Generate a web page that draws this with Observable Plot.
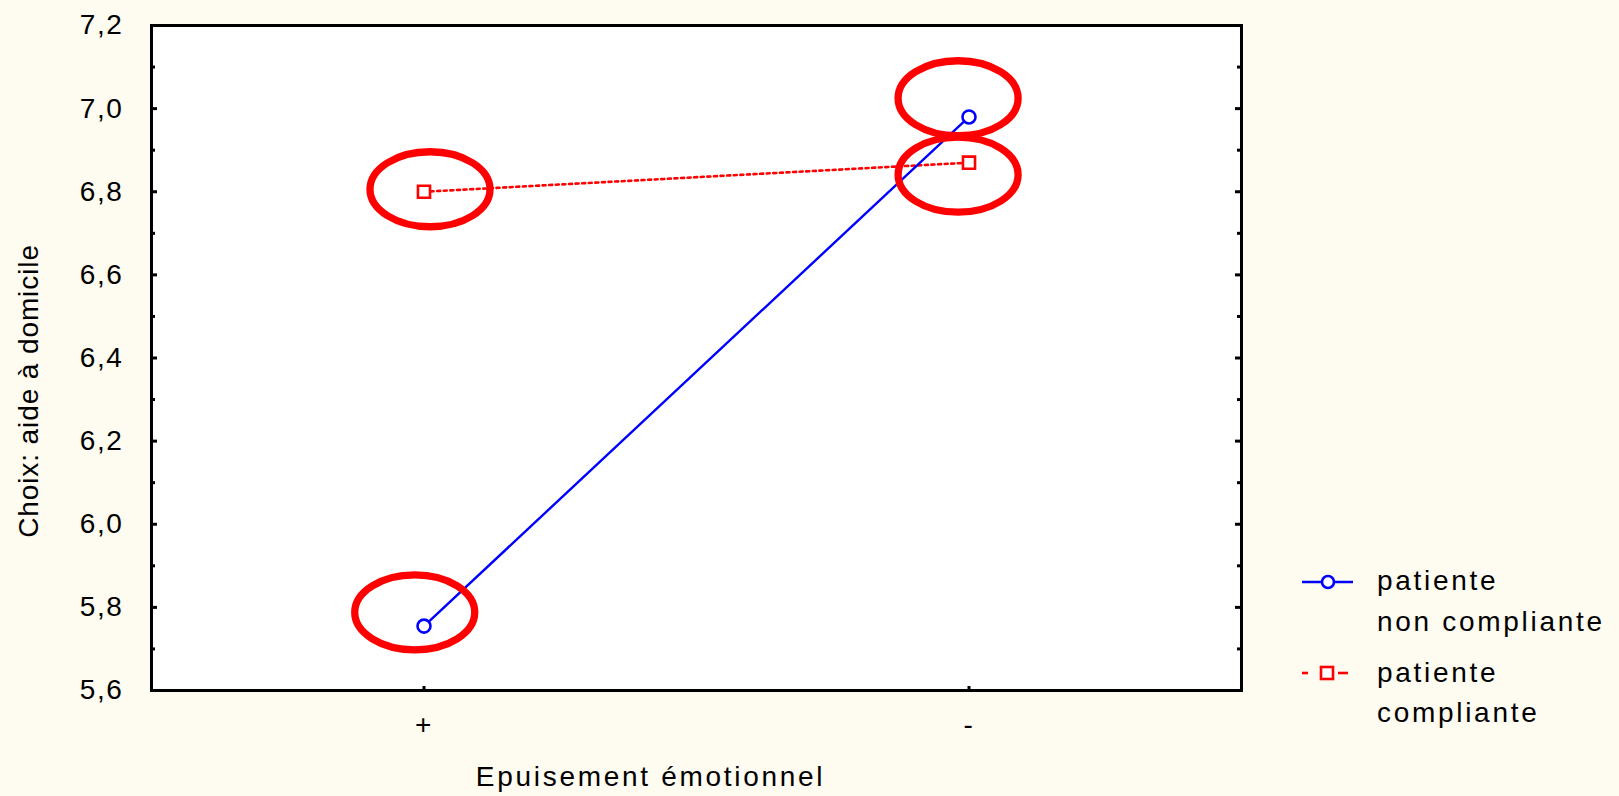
<!DOCTYPE html>
<html><head><meta charset="utf-8">
<script src="https://cdn.jsdelivr.net/npm/d3@7"></script>
<script src="https://cdn.jsdelivr.net/npm/@observablehq/plot@0.6"></script>
<style>
html,body{margin:0;padding:0;background:#fefbf1;}
#wrap{position:relative;width:1619px;height:796px;overflow:hidden;background:#fefbf1;}
#wrap svg text{letter-spacing:1.6px;}
#wrap svg text.ytitle{letter-spacing:0.9px;}
#wrap svg text.xtitle{letter-spacing:2.7px;}
#wrap #legend text{letter-spacing:2.7px;}
#legend{position:absolute;left:0;top:0;}
</style></head><body><div id="wrap"></div>
<script>
// ---- data ----
const categories = ["+", "-"];
const seriesNames = ["patiente non compliante", "patiente compliante"];
const nonCompliante = [5.755, 6.98];
const compliante = [6.80, 6.87];
const yTicks = [5.6, 5.8, 6.0, 6.2, 6.4, 6.6, 6.8, 7.0, 7.2];
const yTickLabels = ["5,6", "5,8", "6,0", "6,2", "6,4", "6,6", "6,8", "7,0", "7,2"];
const yMinorTicks = [5.7, 5.9, 6.1, 6.3, 6.5, 6.7, 6.9, 7.1];
const xTickLabels = ["+", "-"];
const legendLines = [["patiente", "non compliante"], ["patiente", "compliante"]];
const xTitle = "Epuisement émotionnel";
const yTitle = "Choix: aide à domicile";
// annotation ellipses (centres in data units, x index of category)
const ellipseX = [0.98, 0.98, 0.011, -0.017];
const ellipseY = [7.025, 6.841, 6.806, 5.788];

// ---- tables ----
const blueRows = categories.map((c, i) => ({i, v: nonCompliante[i]}));
const redRows = categories.map((c, i) => ({i, v: compliante[i]}));
const ellipses = ellipseX.map((x, k) => ({x, y: ellipseY[k]}));

const W = 1619, H = 796, mL = 151, mR = 378, mT = 25, mB = 106;
const fw = W - mL - mR, fh = H - mT - mB;
const BLUE = "#0000ff", RED = "#ff0000";

const ellipseSymbol = {
  draw(ctx) {
    const rx = 60, ry = 37.5, k = 0.5522847498;
    ctx.moveTo(rx, 0);
    ctx.bezierCurveTo(rx, k * ry, k * rx, ry, 0, ry);
    ctx.bezierCurveTo(-k * rx, ry, -rx, k * ry, -rx, 0);
    ctx.bezierCurveTo(-rx, -k * ry, -k * rx, -ry, 0, -ry);
    ctx.bezierCurveTo(k * rx, -ry, rx, -k * ry, rx, 0);
    ctx.closePath();
  }
};

const chart = Plot.plot({
  width: W, height: H,
  marginLeft: mL, marginRight: mR, marginTop: mT, marginBottom: mB,
  style: {fontFamily: '"Liberation Sans", Arial, sans-serif', fontSize: "28px", background: "transparent", color: "#000"},
  x: {type: "linear", domain: [-0.5, 1.5]},
  y: {domain: [5.6, 7.2]},
  marks: [
    Plot.frame({fill: "white", stroke: null}),
    Plot.line(redRows, {x: "i", y: "v", stroke: RED, strokeWidth: 2.6, strokeDasharray: "3,3.6"}),
    Plot.line(blueRows, {x: "i", y: "v", stroke: BLUE, strokeWidth: 2.4}),
    Plot.dot(blueRows, {x: "i", y: "v", symbol: "circle", r: 6.5, stroke: BLUE, strokeWidth: 2.6, fill: "white"}),
    Plot.dot(redRows, {x: "i", y: "v", symbol: "square", r: 6.8, stroke: RED, strokeWidth: 2.6, fill: "white"}),
    Plot.dot(ellipses, {x: "x", y: "y", symbol: ellipseSymbol, r: 1, stroke: RED, strokeWidth: 7.3, fill: "none"}),
    // inward ticks
    Plot.tickY(yTicks, {y: d => d, insetRight: fw - 6, stroke: "black", strokeWidth: 3}),
    Plot.tickY(yMinorTicks, {y: d => d, insetRight: fw - 4, stroke: "black", strokeWidth: 3}),
    Plot.tickY(yTicks, {y: d => d, insetLeft: fw - 6, stroke: "black", strokeWidth: 3}),
    Plot.tickY(yMinorTicks, {y: d => d, insetLeft: fw - 4, stroke: "black", strokeWidth: 3}),
    Plot.tickX([0, 1], {x: d => d, insetTop: fh - 4, stroke: "black", strokeWidth: 3}),
    Plot.frame({stroke: "black", strokeWidth: 3}),
    Plot.axisY(yTicks, {tickSize: 0, tickPadding: 28, tickFormat: d => yTickLabels[yTicks.indexOf(d)], label: null, fontSize: 28}),
    Plot.axisX([0, 1], {tickSize: 0, tickPadding: 24, tickFormat: d => xTickLabels[d], label: null, fontSize: 28}),
    Plot.text([yTitle], {frameAnchor: "left", textAnchor: "middle", rotate: -90, dx: -122, dy: 33, fontSize: 28, fill: "black"}),
    Plot.text([xTitle], {frameAnchor: "bottom", textAnchor: "middle", dx: -46, dy: 95, fontSize: 28, fill: "black"})
  ]
});
document.getElementById("wrap").appendChild(chart);
// tag title texts for letter-spacing
d3.select(chart).selectAll("text").each(function() {
  const t = this.textContent;
  if (t === yTitle) this.classList.add("ytitle");
  if (t === xTitle) this.classList.add("xtitle");
});

// ---- legend ----
const leg = d3.select("#wrap").append("svg").attr("id", "legend").attr("width", W).attr("height", H)
  .style("font-family", '"Liberation Sans", Arial, sans-serif').style("font-size", "28px");
// blue entry
leg.append("line").attr("x1", 1302).attr("x2", 1353).attr("y1", 582).attr("y2", 582).attr("stroke", BLUE).attr("stroke-width", 2.6);
leg.append("circle").attr("cx", 1328).attr("cy", 582).attr("r", 6).attr("fill", "white").attr("stroke", BLUE).attr("stroke-width", 2.6);
// red entry
leg.append("line").attr("x1", 1302).attr("x2", 1308).attr("y1", 673).attr("y2", 673).attr("stroke", RED).attr("stroke-width", 2.6);
leg.append("line").attr("x1", 1338).attr("x2", 1348).attr("y1", 673).attr("y2", 673).attr("stroke", RED).attr("stroke-width", 2.6);
leg.append("rect").attr("x", 1321).attr("y", 667).attr("width", 12).attr("height", 12).attr("fill", "white").attr("stroke", RED).attr("stroke-width", 2.6);
const baselines = [[590, 631], [682, 722]];
legendLines.forEach((lines, k) => {
  lines.forEach((t, j) => {
    leg.append("text").attr("x", 1377).attr("y", baselines[k][j]).text(t);
  });
});
</script>
</body></html>
